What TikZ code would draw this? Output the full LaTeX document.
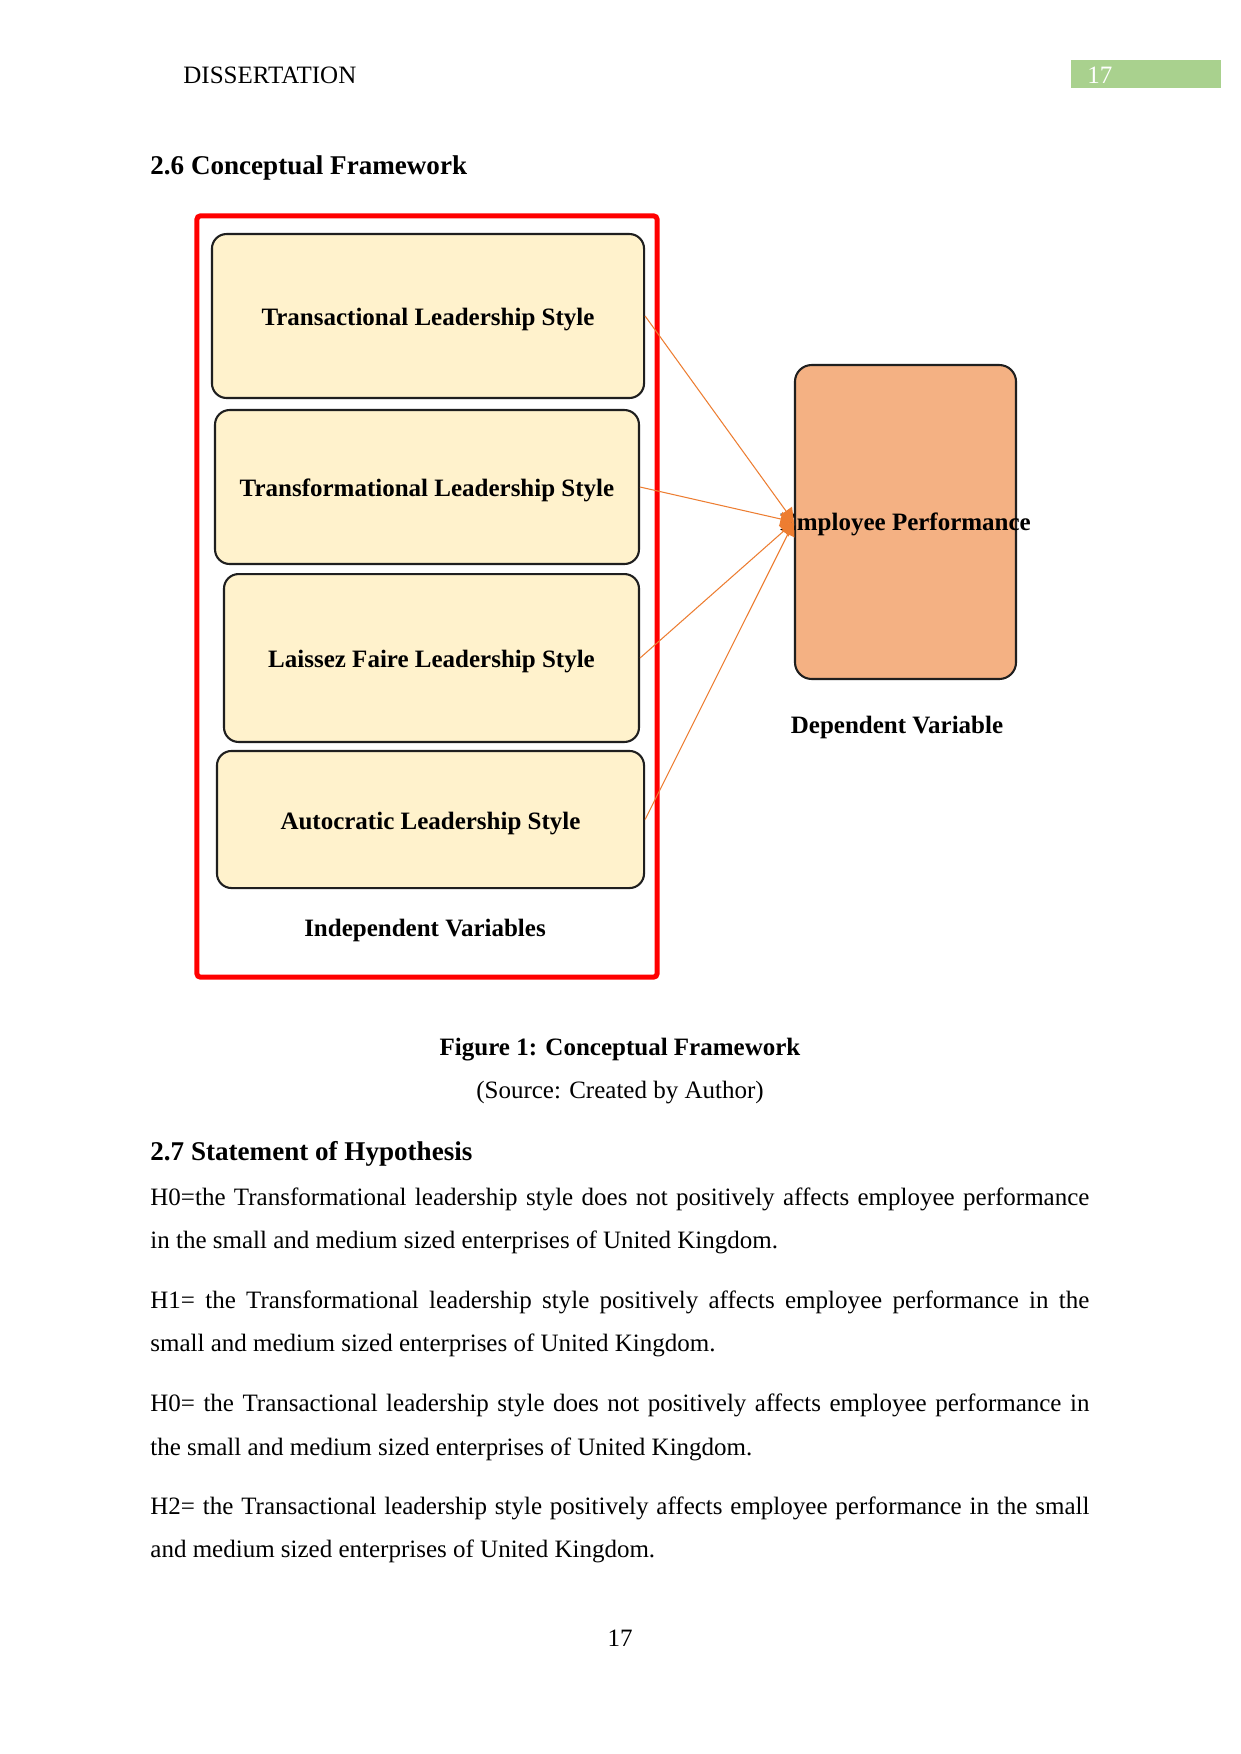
\documentclass[tikz,border=0pt]{standalone}
\usepackage{fontspec}
\setmainfont{Liberation Serif}
\usetikzlibrary{arrows.meta}
\definecolor{boxfill}{HTML}{FFF2CC}
\definecolor{empfill}{HTML}{F4B183}
\definecolor{arr}{HTML}{ED7D31}
\definecolor{hdr}{HTML}{A9D18E}
\begin{document}
\begin{tikzpicture}[x=0.48pt,y=-0.48pt,
  ivbox/.style={draw=black!88, line width=1pt, fill=boxfill, rounded corners=7pt, inner sep=0pt, text height=9.2pt, text depth=0pt, font=\bfseries\fontsize{12}{14}\selectfont},
  empbox/.style={draw=black!88, line width=1pt, fill=empfill, rounded corners=8pt, inner sep=0pt},
  frame/.style={draw=red, line width=2.4pt, rounded corners=1.5pt, inner sep=0pt},
  conn/.style={draw=arr, line width=0.5pt, -{Triangle[length=6.5pt,width=7pt]}},
  txt/.style={inner sep=0pt, font=\fontsize{12}{14}\selectfont},
  btxt/.style={inner sep=0pt, font=\bfseries\fontsize{12}{14}\selectfont},
  head/.style={inner sep=0pt, font=\bfseries\fontsize{13}{15}\selectfont}]
\useasboundingbox[fill=white] (0,0) rectangle (1241,1754);

% header
\node[txt, anchor=base west] (hd) at (183,83.5) {DISSERTATION};
\node[fill=hdr, minimum width=72pt, minimum height=13.4pt, inner sep=0pt] (hbox) at (1146,74) {};
\node[txt, anchor=base west, text=white] (hnum) at (1087,83) {17};

\node[head, anchor=base west] (h26) at (150,174.5) {2.6 Conceptual Framework};

% frame
\node[frame, minimum width=220.8pt, minimum height=365.3pt] (fr) at (427,596.5) {};

% independent variable boxes
\node[ivbox, minimum width=207.4pt, minimum height=78.7pt] (b1) at (428,316) {Transactional Leadership Style};
\node[ivbox, minimum width=203.5pt, minimum height=73.9pt] (b2) at (427,487) {Transformational Leadership Style};
\node[ivbox, minimum width=199.2pt, minimum height=80.6pt] (b3) at (431.5,658) {Laissez Faire Leadership Style};
\node[ivbox, minimum width=205pt, minimum height=65.8pt] (b4) at (430.5,819.5) {Autocratic Leadership Style};
\node[btxt, anchor=base] (iv) at (425,936.5) {Independent Variables};

% dependent variable
\node[empbox, minimum width=106.1pt, minimum height=150.7pt] (emp) at (905.5,522) {};
\node[btxt, anchor=base] (empt) at (905.5,530.5) {Employee Performance};
\node[btxt, anchor=base] (dv) at (897,733.5) {Dependent Variable};

% connectors
\draw[conn] (b1.east) -- (emp.west);
\draw[conn] (b2.east) -- (emp.west);
\draw[conn] (b3.east) -- (emp.west);
\draw[conn] (b4.east) -- (emp.west);

% caption
\node[btxt, anchor=base] (cap) at (620,1055.5) {Figure 1: Conceptual Framework};
\node[txt, anchor=base] (src) at (620,1098.5) {(Source: Created by Author)};

\node[head, anchor=base west] (h27) at (150,1160.5) {2.7 Statement of Hypothesis};

\node[txt, anchor=base west] (p1a) at (150,1205.5) {\makebox[450.7pt][s]{H0=the Transformational leadership style does not positively affects employee performance}};
\node[txt, anchor=base west] (p1b) at (150,1248) {in the small and medium sized enterprises of United Kingdom.};
\node[txt, anchor=base west] (p2a) at (150,1308.5) {\makebox[450.7pt][s]{H1= the Transformational leadership style positively affects employee performance in the}};
\node[txt, anchor=base west] (p2b) at (150,1351) {small and medium sized enterprises of United Kingdom.};
\node[txt, anchor=base west] (p3a) at (150,1411.5) {\makebox[450.7pt][s]{H0= the Transactional leadership style does not positively affects employee performance in}};
\node[txt, anchor=base west] (p3b) at (150,1455) {the small and medium sized enterprises of United Kingdom.};
\node[txt, anchor=base west] (p4a) at (150,1514.5) {\makebox[450.7pt][s]{H2= the Transactional leadership style positively affects employee performance in the small}};
\node[txt, anchor=base west] (p4b) at (150,1557.5) {and medium sized enterprises of United Kingdom.};

\node[txt, anchor=base] (pn) at (620,1646.5) {17};
\end{tikzpicture}
\end{document}
